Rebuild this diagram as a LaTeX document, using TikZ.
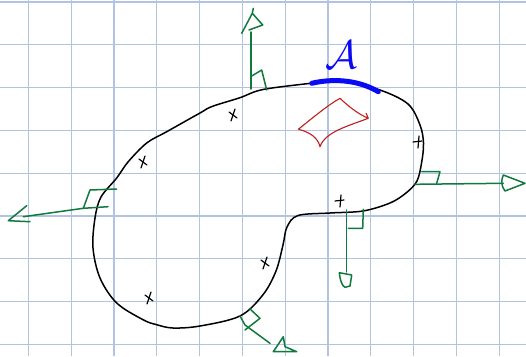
\documentclass[tikz,border=0pt]{standalone}
\begin{document}
\begin{tikzpicture}[x=1pt,y=-1pt,
  gridline/.style={draw=gridblue,line width=1.2pt},
  outline/.style={draw=black,line width=1.5pt,line join=round},
  normal/.style={draw=pengreen,line width=1.5pt,line cap=round,line join=round},
  crossmark/.style={draw=black,line width=1.2pt,line cap=round},
  patch/.style={draw=penred,line width=1.1pt,line join=round},
  region/.style={draw=penblue,line width=5pt,line cap=round}]
\definecolor{gridblue}{RGB}{178,196,226}
\definecolor{pengreen}{RGB}{16,122,62}
\definecolor{penred}{RGB}{192,32,32}
\definecolor{penblue}{RGB}{10,10,245}
\useasboundingbox[fill=white] (0,0) rectangle (526,356);
% grid
\foreach \i in {0,...,11} \draw[gridline] ({28.3+42.8*\i},0) -- ({28.3+42.8*\i},356);
\foreach \j in {0,...,8} \draw[gridline] (0,{2+42.8*\j}) -- (526,{2+42.8*\j});
% closed curve
\draw[outline] plot[smooth cycle,tension=0.55] coordinates {
 (116.7,178) (128,162) (146.7,143) (166.7,131.7) (200,113) (212,106.5) (240,97.7) (263,89.5)
 (313,83) (340,80) (380,90) (408,104) (420,125) (423.5,143) (421.7,162) (417,181)
 (406,193) (390,203) (363,211) (330,213) (298,215.5) (287,227) (283,245) (276,271)
 (263,294.7) (240,316) (200,326) (173,328) (156.7,324.7) (143,319.7) (116.7,303)
 (100,278) (93,248) (95,218) (101,197)};
% blue region and label
\coordinate (ra) at (311.7,83.3);
\coordinate (rb) at (378.3,91.7);
\draw[region] (ra) .. controls (330,79) and (356,78.5) .. (rb);
\node[text=penblue,scale=4,inner sep=0pt] (lblA) at (341,55) {$\mathcal{A}$};
% red patch
\coordinate (p1) at (298.3,129.3);
\coordinate (p2) at (340,98.3);
\coordinate (p3) at (368.3,118.3);
\coordinate (p4) at (320,146.7);
\draw[patch] (p1) .. controls (315,116) and (328,105) .. (p2)
  .. controls (348,106) and (358,114) .. (p3) -- (366,113)
  (p3) .. controls (348,126) and (325,132) .. (p4)
  .. controls (318,138) and (310,132) .. (p1);
% crosses
\foreach \cx/\cy in {233/115, 143/162, 149/298, 265/263} {
  \draw[crossmark] (\cx-4,\cy-3) -- (\cx+4,\cy+3);
  \draw[crossmark] (\cx+2,\cy-6) -- (\cx-2,\cy+6);
}
\foreach \cx/\cy in {418/142, 340/201} {
  \draw[crossmark] (\cx-5,\cy) -- (\cx+4,\cy-1);
  \draw[crossmark] (\cx+1,\cy-6) -- (\cx,\cy+6);
}
% top normal
\coordinate (t0) at (251,89);
\coordinate (t1) at (251,32);
\draw[normal] (t0) -- (t1);
\draw[normal] (241.7,33.3) -- (252.3,13.3) -- (253.3,8.3) (252.3,13.3) -- (262.7,25) -- (249,30);
\draw[normal] (251.7,76) -- (261.7,70) -- (266.7,90);
% left normal
\coordinate (l0) at (108,206.7);
\coordinate (l1) at (23.3,216.7);
\draw[normal] (l0) -- (83.3,208.3) -- (l1);
\draw[normal] (26.7,205.7) -- (8.3,220.7) -- (30,221.7);
\draw[normal] (83.3,208.3) -- (90,190) -- (116.7,189);
% right normal
\coordinate (r0) at (415,184.3);
\coordinate (r1) at (503.3,183.3);
\draw[normal] (r0) -- (r1);
\draw[normal] (503.3,175) -- (525,183.3) -- (505,191) .. controls (501,186) and (501,180) .. cycle;
\draw[normal] (421.7,171.7) -- (440,171.7) -- (436.7,183.3);
% bottom normal
\coordinate (b0) at (346.7,210);
\coordinate (b1) at (346.7,272);
\draw[normal] (b0) -- (b1);
\draw[normal] (339.3,272.7) .. controls (340,280) and (342,286) .. (345,287.3) -- (350,286) -- (351.7,275) -- cycle;
\draw[normal] (348.3,228.3) -- (362.7,228.3) -- (363.3,209.3);
% bottom-left normal
\coordinate (s0) at (240,316);
\coordinate (s1) at (270,343.3);
\draw[normal] (s0) -- (245,325) -- (s1);
\draw[normal] (249.3,308.3) -- (260,318.3) -- (245,330);
\draw[normal] (273.3,351.7) -- (283.3,336.7) -- (285,346.7) -- (296.7,351.7) -- (273.3,351.7);
\end{tikzpicture}
\end{document}
